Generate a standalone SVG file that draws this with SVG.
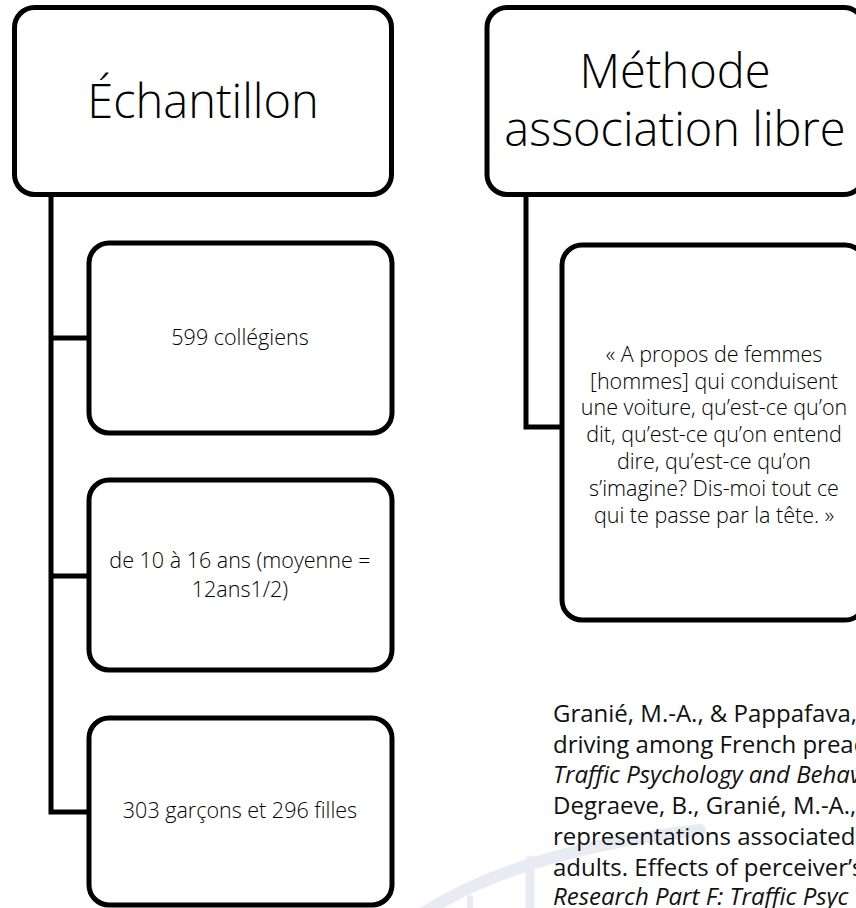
<svg xmlns="http://www.w3.org/2000/svg" width="856" height="908" viewBox="0 0 856 908">
<style>
.box{fill:#fff;stroke:#000;stroke-width:5}
.con{fill:none;stroke:#000;stroke-width:5;stroke-linejoin:miter}
.t{font-family:"Open Sans","Noto Sans","Liberation Sans",sans-serif;fill:#000;text-anchor:middle}
.title{font-size:47px;font-weight:300}
.lab{font-size:21.5px;font-weight:300}
.ref{font-family:"Open Sans","Noto Sans","Liberation Sans",sans-serif;font-size:24px;fill:#111}
.wm{fill:none;stroke:#e8ebf1;stroke-linecap:round}
</style>
<rect width="856" height="908" fill="#fff"/>
<g id="watermark">
<path class="wm" d="M420 915 Q520 850 700 830" stroke-width="12"/>
<path class="wm" d="M530 860 L530 915" stroke-width="9"/>
<path class="wm" d="M470 898 L470 915" stroke-width="6"/>
</g>
<g id="connectors">
<path class="con" d="M51 195 V812 H89"/>
<path class="con" d="M51 338 H89"/>
<path class="con" d="M51 576 H89"/>
<path class="con" d="M526 195 V427 H562"/>
</g>
<g id="echantillon">
<rect class="box" x="14.5" y="7.5" width="377" height="187" rx="20"/>
<text class="t title" x="203" y="118">Échantillon</text>
</g>
<g id="collegiens">
<rect class="box" x="89" y="243" width="303" height="190" rx="20"/>
<text class="t lab" x="240" y="345">599 collégiens</text>
</g>
<g id="age">
<rect class="box" x="89" y="480" width="303" height="190" rx="20"/>
<text class="t lab" x="240" y="568">de 10 à 16 ans (moyenne =</text>
<text class="t lab" x="240" y="597">12ans1/2)</text>
</g>
<g id="sexe">
<rect class="box" x="89" y="718" width="303" height="187" rx="20"/>
<text class="t lab" x="240" y="818">303 garçons et 296 filles</text>
</g>
<g id="methode">
<rect class="box" x="487" y="7.5" width="377" height="187" rx="20"/>
<text class="t title" x="675" y="88">Méthode</text>
<text class="t title" x="675" y="146">association libre</text>
</g>
<g id="consigne">
<rect class="box" x="562" y="245" width="303" height="375" rx="20"/>
<text class="t lab" x="714" y="362">« A propos de femmes</text>
<text class="t lab" x="714" y="388.5">[hommes] qui conduisent</text>
<text class="t lab" x="714" y="415">une voiture, qu’est-ce qu’on</text>
<text class="t lab" x="714" y="442">dit, qu’est-ce qu’on entend</text>
<text class="t lab" x="714" y="469">dire, qu’est-ce qu’on</text>
<text class="t lab" x="714" y="496">s’imagine? Dis-moi tout ce</text>
<text class="t lab" x="714" y="523">qui te passe par la tête. »</text>
</g>
<g id="references">
<text class="ref" x="553" y="722">Granié, M.-A., &amp; Pappafava,</text>
<text class="ref" x="553" y="752.5">driving among French pread</text>
<text class="ref" x="553" y="783" font-style="italic">Traffic Psychology and Behav</text>
<text class="ref" x="553" y="814">Degraeve, B., Granié, M.-A.,</text>
<text class="ref" x="553" y="845">representations associated w</text>
<text class="ref" x="553" y="876">adults. Effects of perceiver’s</text>
<text class="ref" x="553" y="905" font-style="italic">Research Part F: Traffic Psyc</text>
</g>
</svg>
